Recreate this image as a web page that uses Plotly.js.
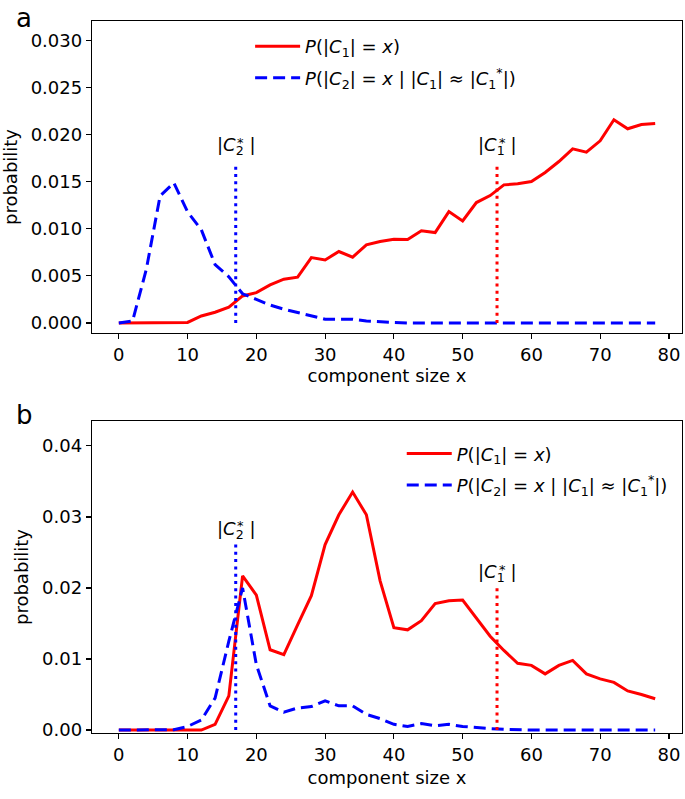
<!DOCTYPE html>
<html><head><meta charset="utf-8">
<script src="https://cdn.plot.ly/plotly-3.0.1.min.js"></script>
<style>body{margin:0;padding:0;background:#fff}#chart{width:685px;height:799px}</style>
</head><body><div id="chart"></div>
<script>
// component sizes x (shared by both panels)
const sizes = [0,2,4,6,8,10,12,14,16,18,20,22,24,26,28,30,32,34,36,38,40,42,44,46,48,50,52,54,56,58,60,62,64,66,68,70,72,74,76,78];

// panel a
const aC1 = [0,0,0,0,0,0.00005,0.00074,0.00114,0.00167,0.00287,0.00322,0.00404,0.00465,0.00486,0.00695,0.0067,0.00759,0.00699,0.0083,0.00865,0.0089,0.00886,0.00979,0.00961,0.01184,0.01085,0.0128,0.01354,0.01468,0.01479,0.01503,0.01599,0.01716,0.01851,0.01816,0.01936,0.0216,0.02064,0.0211,0.0212];
const aC2 = [0,0.0002,0.0057,0.0135,0.0149,0.0118,0.0099,0.0062,0.0049,0.0031,0.0025,0.0019,0.00146,0.0011,0.00074,0.0004,0.0004,0.0004,0.0002,0.0001,0.00005,0,0,0,0,0,0,0,0,0,0,0,0,0,0,0,0,0,0,0];

// panel b
const bC1 = [0,0,0,0,0,0,0,0.0008,0.0048,0.0217,0.019,0.0113,0.0106,0.0148,0.0189,0.0261,0.0303,0.0335,0.0303,0.021,0.0144,0.0141,0.0154,0.0178,0.0182,0.0183,0.0157,0.0132,0.0112,0.0094,0.0091,0.0079,0.0091,0.0098,0.0079,0.0072,0.0067,0.0055,0.005,0.0044];
const bC2 = [0,0,0,0,0.00005,0.0005,0.0014,0.0045,0.0125,0.020,0.0092,0.0034,0.0025,0.0031,0.0033,0.0041,0.0034,0.0034,0.0022,0.0016,0.0008,0.0005,0.0009,0.0006,0.0008,0.0005,0.0003,0.0002,0.0001,0,0,0,0,0,0,0,0,0,0,0];

// marker lines |C1*|, |C2*|
const c2star = 17, c1star = 55;
const aMarkTop = 0.0167, aLabelY = 0.0188;
const bC2Top = 0.0261, bC2LabelY = 0.0282;
const bC1Top = 0.0203, bC1LabelY = 0.0221;

const xTicks = [0,10,20,30,40,50,60,70,80];
const legendC1 = '<i>P</i>(|<i>C</i><sub>1</sub>| = <i>x</i>)';
const legendC2 = '<i>P</i>(|<i>C</i><sub>2</sub>| = <i>x</i> | |<i>C</i><sub>1</sub>| ≈ |<i>C</i><sub>1</sub><sup>*</sup>|)';
const labC1 = '|<i>C</i><sub>1</sub> |';
const labC2 = '|<i>C</i><sub>2</sub> |';

const RED = '#ff0000', BLUE = '#0000ff';
const F = 'DejaVu Sans, sans-serif';

const traces = [
  {x: sizes, y: aC1, xaxis:'x', yaxis:'y', mode:'lines', name: legendC1, line:{color:RED, width:3}, legend:'legend', legendgroup:'a1'},
  {x: sizes, y: aC2, xaxis:'x', yaxis:'y', mode:'lines', name: legendC2, line:{color:BLUE, width:3, dash:'12px,6px'}, legend:'legend', legendgroup:'a2'},
  {x: [c2star,c2star], y:[0,aMarkTop], xaxis:'x', yaxis:'y', mode:'lines', showlegend:false, line:{color:BLUE, width:3, dash:'3px,4.3px'}},
  {x: [c1star,c1star], y:[0,aMarkTop], xaxis:'x', yaxis:'y', mode:'lines', showlegend:false, line:{color:RED, width:3, dash:'3px,4.3px'}},
  {x: sizes, y: bC1, xaxis:'x2', yaxis:'y2', mode:'lines', name: legendC1, line:{color:RED, width:3}, legend:'legend2', legendgroup:'b1'},
  {x: sizes, y: bC2, xaxis:'x2', yaxis:'y2', mode:'lines', name: legendC2, line:{color:BLUE, width:3, dash:'12px,6px'}, legend:'legend2', legendgroup:'b2'},
  {x: [c2star,c2star], y:[0,bC2Top], xaxis:'x2', yaxis:'y2', mode:'lines', showlegend:false, line:{color:BLUE, width:3, dash:'3px,4.3px'}},
  {x: [c1star,c1star], y:[0,bC1Top], xaxis:'x2', yaxis:'y2', mode:'lines', showlegend:false, line:{color:RED, width:3, dash:'3px,4.3px'}}
];

const axBase = {showline:true, mirror:true, linecolor:'#000', linewidth:1.2, ticks:'outside', ticklen:5, tickwidth:1.2, tickcolor:'#000', showgrid:false, zeroline:false, tickfont:{family:F, size:18, color:'#000'}};

function starLabel(xref, yref, x, y, text) {
  return [
    {xref:xref, yref:yref, x:x, y:y, text:text, showarrow:false, font:{family:F,size:18}},
    {xref:xref, yref:yref, x:x, y:y, text:'*', showarrow:false, xshift:5, yshift:4, font:{family:F,size:13}}
  ];
}

const layout = {
  width:685, height:799,
  margin:{l:92, r:3, t:21, b:66},
  paper_bgcolor:'#fff', plot_bgcolor:'#fff',
  font:{family:F, size:18, color:'#000'},
  xaxis: Object.assign({}, axBase, {anchor:'y', range:[-3.9,81.9], tickvals:xTicks, title:{text:'component size x', font:{family:F,size:18}, standoff:5}}),
  yaxis: Object.assign({}, axBase, {domain:[0.5618,1], range:[-0.00107,0.0321], dtick:0.005, tick0:0, tickformat:'.3f', title:{text:'probability', font:{family:F,size:18}, standoff:8}}),
  xaxis2: Object.assign({}, axBase, {anchor:'y2', range:[-3.9,81.9], tickvals:xTicks, title:{text:'component size x', font:{family:F,size:18}, standoff:7}}),
  yaxis2: Object.assign({}, axBase, {domain:[0,0.4382], range:[-0.00042,0.0435], dtick:0.01, tick0:0, tickformat:'.2f', title:{text:'probability', font:{family:F,size:18}, standoff:8}}),
  legend: {x:0.268, y:0.99, xanchor:'left', yanchor:'top', bgcolor:'rgba(0,0,0,0)', borderwidth:0, font:{family:F, size:18}, traceorder:'grouped', tracegroupgap:5, itemwidth:45},
  legend2: {x:0.525, y:0.418, xanchor:'left', yanchor:'top', bgcolor:'rgba(0,0,0,0)', borderwidth:0, font:{family:F, size:18}, traceorder:'grouped', tracegroupgap:5, itemwidth:45},
  annotations: [].concat(
    starLabel('x','y', c2star, aLabelY, labC2),
    starLabel('x','y', c1star, aLabelY, labC1),
    starLabel('x2','y2', c2star, bC2LabelY, labC2),
    starLabel('x2','y2', c1star, bC1LabelY, labC1),
    [
      {xref:'paper', yref:'paper', x:-0.132, y:1.004, yanchor:'middle', text:'a', showarrow:false, font:{family:F,size:26}},
      {xref:'paper', yref:'paper', x:-0.132, y:0.4466, yanchor:'middle', text:'b', showarrow:false, font:{family:F,size:26}}
    ]
  ),
  showlegend:true
};

Plotly.newPlot('chart', traces, layout, {staticPlot:true, displayModeBar:false});
</script></body></html>
